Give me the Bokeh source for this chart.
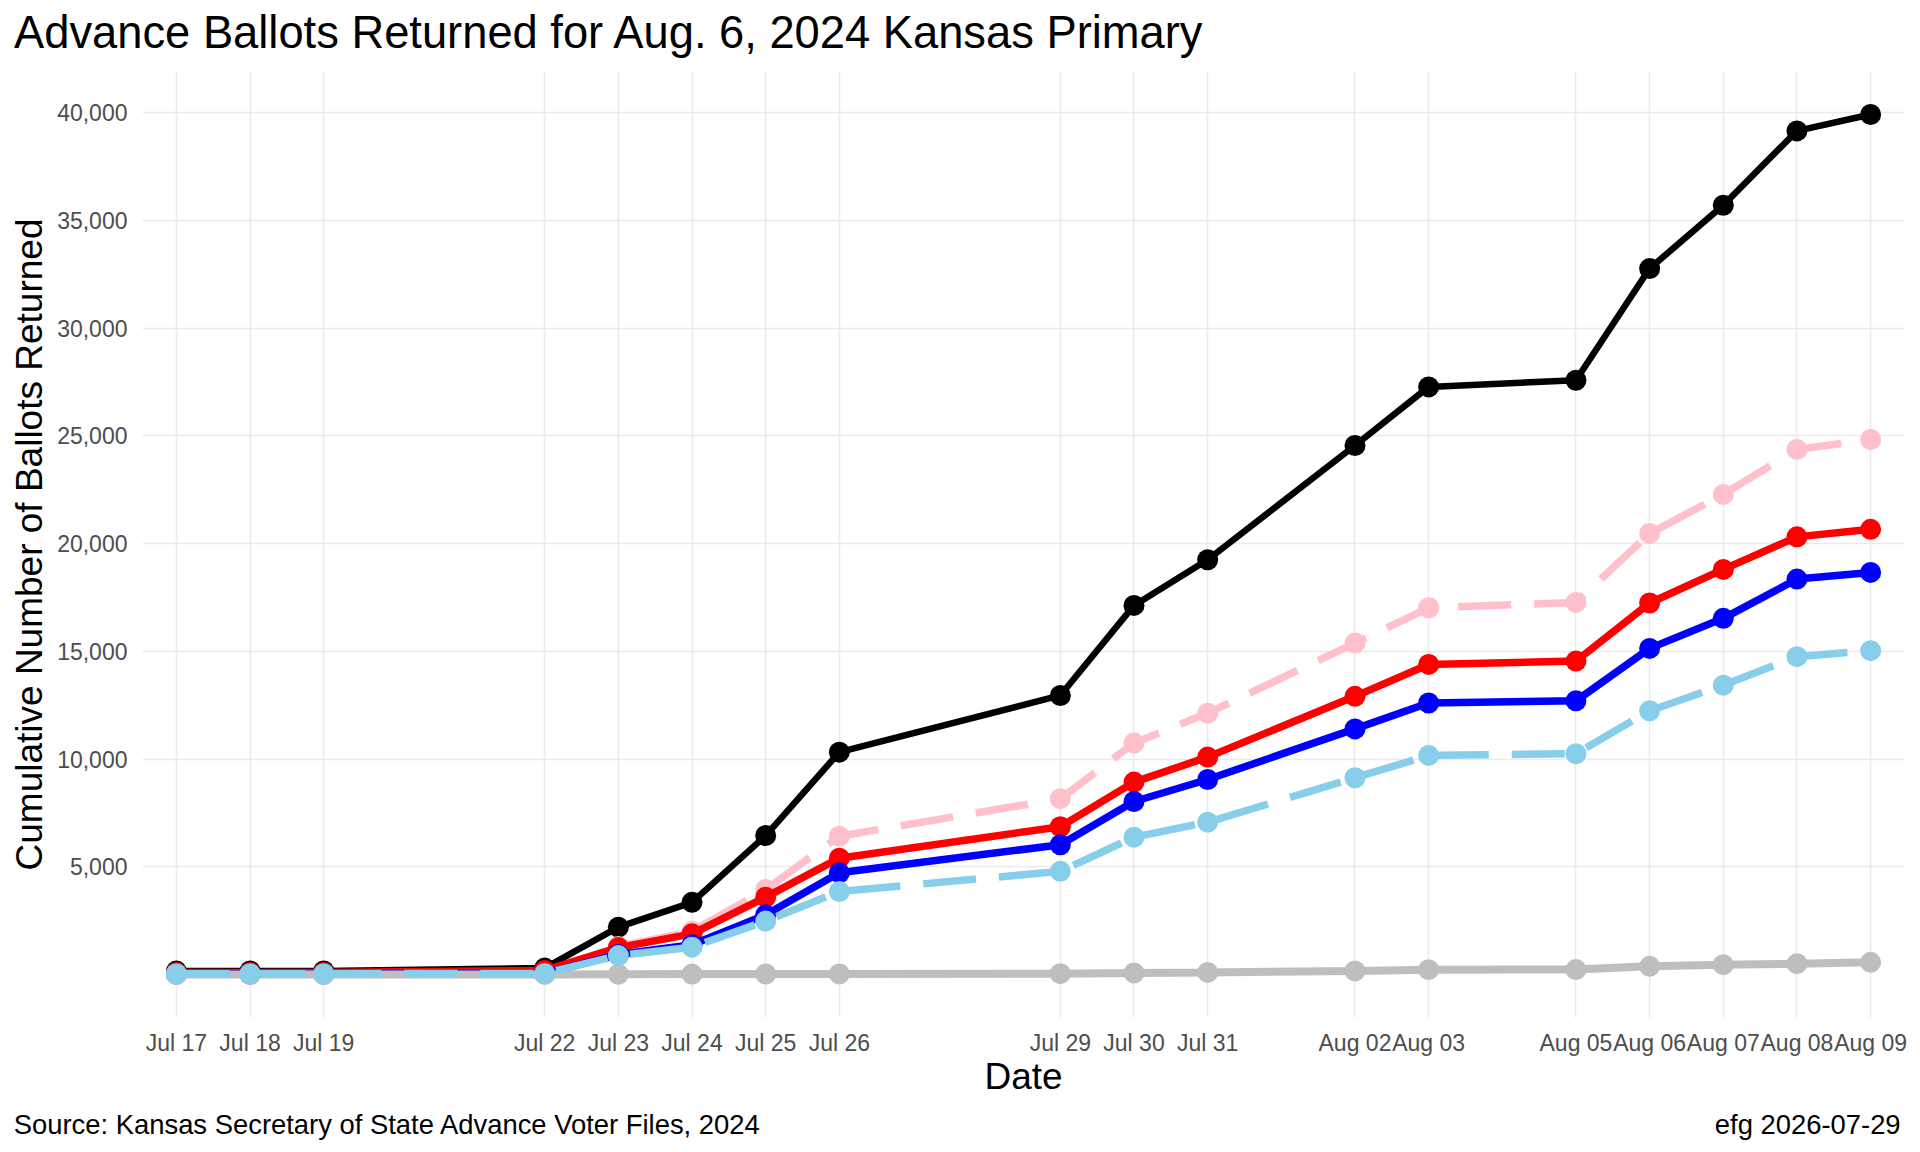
import pandas as pd
from bokeh.plotting import figure
from bokeh.models import (Range1d, FixedTicker, DatetimeTickFormatter,
                          NumeralTickFormatter, LinearAxis)
from bokeh.embed import file_html
from bokeh.resources import INLINE

# ---------------- data ----------------
dates = ["2024-07-17", "2024-07-18", "2024-07-19", "2024-07-22", "2024-07-23",
         "2024-07-24", "2024-07-25", "2024-07-26", "2024-07-29", "2024-07-30",
         "2024-07-31", "2024-08-02", "2024-08-03", "2024-08-05", "2024-08-06",
         "2024-08-07", "2024-08-08", "2024-08-09"]

total = [160, 165, 170, 300, 2200, 3350, 6450, 10320, 12950, 17130,
         19250, 24550, 27270, 27580, 32760, 35700, 39150, 39910]
pink_series = [20, 15, 20, 40, 1300, 2010, 3950, 6420, 8160, 10740,
               12130, 15380, 17020, 17270, 20470, 22280, 24370, 24830]
red_series = [90, 95, 100, 190, 1250, 1890, 3590, 5400, 6860, 8930,
              10090, 12910, 14390, 14545, 17240, 18800, 20310, 20660]
blue_series = [20, 25, 25, 50, 930, 1380, 2770, 4720, 6025, 8030,
               9050, 11400, 12600, 12700, 15135, 16530, 18350, 18660]
gray_series = [2, 2, 3, 5, 15, 20, 25, 30, 40, 75,
               100, 170, 225, 230, 380, 460, 505, 565]
lightblue_series = [40, 40, 40, 50, 880, 1270, 2480, 3850, 4790, 6375,
                    7070, 9130, 10167, 10250, 12240, 13430, 14750, 15030]

y_ticks = [5000, 10000, 15000, 20000, 25000, 30000, 35000, 40000]

title_text = "Advance Ballots Returned for Aug. 6, 2024 Kansas Primary"
x_title = "Date"
y_title = "Cumulative Number of Ballots Returned"
caption_left = "Source: Kansas Secretary of State Advance Voter Files, 2024"
caption_right = "efg  2026-07-29"

# ---------------- layout ----------------
W, H = 1920, 1152
ML, MR, MT, MB = 142, 16, 71, 135
FW, FH = W - ML - MR, H - MT - MB
FONT = "Liberation Sans"

xs = pd.to_datetime(dates)
xms = [int(t.value // 10**6) for t in xs]
span_x = xms[-1] - xms[0]
x0, x1 = xms[0] - 0.02 * span_x, xms[-1] + 0.02 * span_x

all_y = total + pink_series + red_series + blue_series + gray_series + lightblue_series
ymin, ymax = min(all_y), max(all_y)
span_y = ymax - ymin
y0, y1 = ymin - 0.05 * span_y, ymax + 0.05 * span_y

p = figure(width=W, height=H, x_axis_type="datetime",
           x_range=Range1d(x0, x1), y_range=Range1d(y0, y1),
           output_backend="svg", toolbar_location=None,
           min_border_left=ML, min_border_right=MR,
           min_border_top=MT, min_border_bottom=MB)
p.outline_line_color = None
p.background_fill_color = "white"
p.border_fill_color = "white"

xaxis = p.xaxis[0]
yaxis = p.yaxis[0]

xaxis.ticker = FixedTicker(ticks=xms, minor_ticks=[])
fmt = "%b %d"
xaxis.formatter = DatetimeTickFormatter(
    milliseconds=fmt, seconds=fmt, minsec=fmt, minutes=fmt, hourmin=fmt,
    hours=fmt, days=fmt, months=fmt, years=fmt)
yaxis.ticker = FixedTicker(ticks=y_ticks, minor_ticks=[])
yaxis.formatter = NumeralTickFormatter(format="0,0")

def plain_axis(ax):
    ax.axis_line_color = None
    ax.major_tick_line_color = None
    ax.minor_tick_line_color = None
    ax.major_tick_in = 0
    ax.major_tick_out = 0
    ax.major_label_text_font = FONT

for ax in (xaxis, yaxis):
    plain_axis(ax)
    ax.major_label_text_font_size = "23px"
    ax.major_label_text_color = "#4D4D4D"
    ax.axis_label_text_font = FONT
    ax.axis_label_text_font_size = "37px"
    ax.axis_label_text_font_style = "normal"
    ax.axis_label_text_color = "#000000"
yaxis.major_label_standoff = 15
xaxis.major_label_standoff = 12
xaxis.axis_label = x_title
yaxis.axis_label = y_title
xaxis.axis_label_standoff = -3
yaxis.axis_label_standoff = 4

p.xgrid.grid_line_color = "#EBEBEB"
p.ygrid.grid_line_color = "#EBEBEB"
p.xgrid.grid_line_width = 1.6
p.ygrid.grid_line_width = 1.6
p.xgrid.ticker = FixedTicker(ticks=xms, minor_ticks=[])
p.ygrid.ticker = FixedTicker(ticks=y_ticks, minor_ticks=[])

# pixel-unit range for the title and the caption row
p.extra_x_ranges = {"px": Range1d(0, FW)}

title_center = 467
title_axis = LinearAxis(x_range_name="px",
                        ticker=FixedTicker(ticks=[title_center], minor_ticks=[]),
                        major_label_overrides={title_center: title_text})
plain_axis(title_axis)
title_axis.major_label_standoff = 14
title_axis.major_label_text_font_size = "45.3px"
title_axis.major_label_text_color = "#000000"
p.add_layout(title_axis, "above")

cap_left_center = 245
cap_right_center = 1669
cap_axis = LinearAxis(x_range_name="px",
                      ticker=FixedTicker(ticks=[cap_left_center, cap_right_center], minor_ticks=[]),
                      major_label_overrides={cap_left_center: caption_left,
                                             cap_right_center: caption_right})
plain_axis(cap_axis)
cap_axis.major_label_standoff = 9
cap_axis.major_label_text_font_size = "27.4px"
cap_axis.major_label_text_color = "#000000"
p.add_layout(cap_axis, "below")

# ---------------- series ----------------
series = [
    (total, "#000000", 6.5, "solid"),
    (pink_series, "#FFC0CB", 7.5, "53 23"),
    (red_series, "#FF0000", 7.5, "solid"),
    (blue_series, "#0000FF", 7.5, "solid"),
    (gray_series, "#BEBEBE", 8, "solid"),
    (lightblue_series, "#87CEEB", 7.5, "53 23"),
]
for vals, col, lw, dash in series:
    p.line(xs, vals, line_color=col, line_width=lw, line_dash=dash)
    p.scatter(xs, vals, size=21, fill_color=col, line_color=None)

open("out.html", "w").write(file_html(p, INLINE))
